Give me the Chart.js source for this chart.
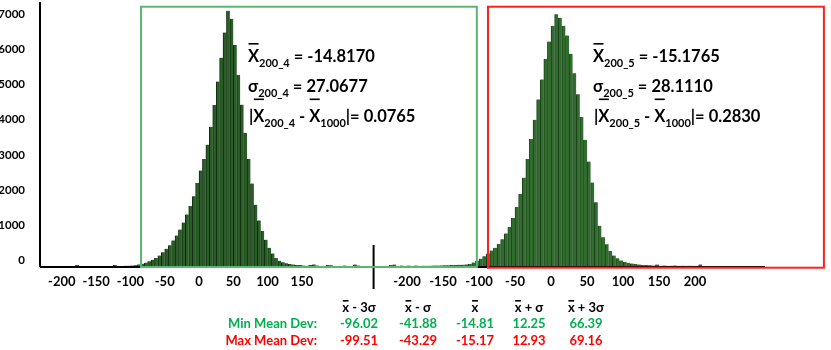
<!DOCTYPE html>
<html><head><meta charset="utf-8">
<script src="https://cdn.jsdelivr.net/npm/chart.js@4.4.1/dist/chart.umd.min.js"></script>
<style>html,body{margin:0;padding:0;background:#fff;}#wrap{width:831px;height:350px;}</style>
</head><body><div id="wrap"><canvas id="c" width="831" height="350"></canvas></div>
<script>
// ---------- DATA ----------
const leftBins = [-177.5,-122.5,-107.5,-102.5,-97.5,-92.5,-87.5,-82.5,-77.5,-72.5,-67.5,-62.5,-57.5,-52.5,-47.5,-42.5,-37.5,-32.5,-27.5,-22.5,-17.5,-12.5,-7.5,-2.5,2.5,7.5,12.5,17.5,22.5,27.5,32.5,37.5,42.5,47.5,52.5,57.5,62.5,67.5,72.5,77.5,82.5,87.5,92.5,97.5,102.5,107.5,112.5,117.5,122.5,127.5,132.5,137.5,142.5,147.5,152.5,157.5,162.5,167.5,172.5,187.5,192.5,212.5,227.5,232.5];
const leftCounts = [30,25,8,10,12,18,45,65,95,135,175,230,300,390,490,595,730,870,1040,1240,1470,1710,1990,2370,2720,3050,3460,3970,4590,5260,5940,6660,7280,7050,6300,5450,4600,3800,3050,2350,1750,1300,1000,750,520,360,230,150,105,80,55,40,30,25,15,10,30,45,15,25,20,15,40,15];
const rightBins = [-222.5,-217.5,-207.5,-197.5,-187.5,-177.5,-172.5,-167.5,-162.5,-157.5,-152.5,-147.5,-142.5,-137.5,-132.5,-127.5,-122.5,-117.5,-112.5,-107.5,-102.5,-97.5,-92.5,-87.5,-82.5,-77.5,-72.5,-67.5,-62.5,-57.5,-52.5,-47.5,-42.5,-37.5,-32.5,-27.5,-22.5,-17.5,-12.5,-7.5,-2.5,2.5,7.5,12.5,17.5,22.5,27.5,32.5,37.5,42.5,47.5,52.5,57.5,62.5,67.5,72.5,77.5,82.5,87.5,92.5,97.5,102.5,107.5,112.5,117.5,122.5,127.5,132.5,137.5,142.5,147.5,152.5,157.5,162.5,167.5,172.5,177.5,182.5,187.5,192.5,197.5,202.5,207.5];
const rightCounts = [30,40,15,12,15,10,8,10,12,14,16,19,22,25,28,33,38,45,60,100,150,210,280,360,440,520,630,760,930,1110,1370,1680,2050,2520,3050,3620,4170,4750,5320,5900,6400,6850,7180,7080,6850,6570,6050,5500,4900,4250,3600,2980,2380,1820,1150,820,620,430,300,220,160,120,90,70,55,40,30,25,20,15,40,10,12,8,10,12,8,10,6,10,8,6,45];
const yTicks = [0,1000,2000,3000,4000,5000,6000,7000];
const leftTickLabels = [-200,-150,-100,-50,0,50,100,150];
const rightTickLabels = [-200,-150,-100,-50,0,50,100,150,200];
const leftStats = {sub:'200_4', mean:'-14.8170', sigma:'27.0677', dev:'0.0765'};
const rightStats = {sub:'200_5', mean:'-15.1765', sigma:'28.1110', dev:'0.2830'};
const tableHeaders = [' - 3σ', ' - σ', '', ' + σ', ' + 3σ'];
const minMeanDev = ['-96.02','-41.88','-14.81','12.25','66.39'];
const maxMeanDev = ['-99.51','-43.29','-15.17','12.93','69.16'];

// ---------- LAYOUT / STYLE ----------
const FONT = 'Lato, "Open Sans", sans-serif';
const XL = {min:-231.8, max:825.1};
const XR = {min:-709.7, max:297.2};
const DIVIDER_AT = 254.5;          // in left-section units
const GREEN_BOX = {x0:-84.5, x1:405, top:7394};   // xL units
const RED_BOX = {x0:-87.5, x1:379, top:7394};     // xR units
const tableCols = [359, 418, 475, 529, 586];
const tableRowsY = [311.5, 327.5, 345];

function rich(ctx, x, y, segs, base, subSize, subDy, overOff) {
  let cx = x;
  for (const s of segs) {
    const size = s.sub ? subSize : base;
    ctx.font = `bold ${size}px ${FONT}`;
    ctx.fillText(s.t, cx, y + (s.sub ? subDy : 0));
    const w = ctx.measureText(s.t).width;
    if (s.over) ctx.fillRect(cx + 0.5, y - overOff, w - 1, 1.6);
    cx += w;
  }
  return cx - x;
}
function richWidth(ctx, segs, base, subSize) {
  let w = 0;
  for (const s of segs) { ctx.font = `bold ${s.sub ? subSize : base}px ${FONT}`; w += ctx.measureText(s.t).width; }
  return w;
}

const deco = {
  id: 'deco',
  afterDraw(chart) {
    const {ctx, chartArea: ca, scales: {xL, xR, y}} = chart;
    ctx.save();
    const y0 = y.getPixelForValue(0);
    ctx.fillStyle = '#000';
    ctx.fillRect(ca.left, y0, ca.right - ca.left, 2);
    const dx = xL.getPixelForValue(DIVIDER_AT);
    ctx.fillRect(dx - 1, 245, 2, 44);
    ctx.lineWidth = 2;
    ctx.strokeStyle = '#5bb673';
    let gx0 = xL.getPixelForValue(GREEN_BOX.x0), gx1 = xL.getPixelForValue(GREEN_BOX.x1), gt = y.getPixelForValue(GREEN_BOX.top);
    ctx.strokeRect(gx0, gt, gx1 - gx0, y0 + 1 - gt);
    ctx.strokeStyle = '#ff1f1f';
    let rx0 = xR.getPixelForValue(RED_BOX.x0), rx1 = xR.getPixelForValue(RED_BOX.x1), rt = y.getPixelForValue(RED_BOX.top);
    ctx.strokeRect(rx0, rt, rx1 - rx0, y0 + 1.7 - rt);
    ctx.fillStyle = '#000';
    ctx.font = `bold 13px ${FONT}`;
    ctx.textAlign = 'center';
    ctx.textBaseline = 'alphabetic';
    leftTickLabels.forEach(v => ctx.fillText(String(v), xL.getPixelForValue(v), 286));
    rightTickLabels.forEach(v => ctx.fillText(String(v), xR.getPixelForValue(v), 286));
    ctx.textAlign = 'left';
    const ann = (x, st) => {
      rich(ctx, x, 62, [{t:'X', over:true},{t:st.sub, sub:true},{t:' = ' + st.mean}], 16.5, 11, 5, 19);
      rich(ctx, x, 92, [{t:'σ'},{t:st.sub, sub:true},{t:' = ' + st.sigma}], 16.5, 11, 5, 19);
      rich(ctx, x + 1, 122, [{t:'|'},{t:'X', over:true},{t:st.sub, sub:true},{t:' - '},{t:'X', over:true},{t:'1000', sub:true},{t:'|= ' + st.dev}], 16.5, 11, 5, 23.5);
    };
    ann(248, leftStats);
    ann(593, rightStats);
    tableHeaders.forEach((h, i) => {
      const segs = [{t:'x', over:true}, {t:h}];
      const w = richWidth(ctx, segs, 13, 13);
      rich(ctx, tableCols[i] - w / 2, tableRowsY[0], segs, 13, 13, 0, 11.5);
    });
    ctx.font = `bold 13px ${FONT}`;
    ctx.textAlign = 'right';
    ctx.fillStyle = '#00b050';
    ctx.fillText('Min Mean Dev:', 317, tableRowsY[1]);
    ctx.fillStyle = '#ff0000';
    ctx.fillText('Max Mean Dev:', 317, tableRowsY[2]);
    ctx.textAlign = 'center';
    ctx.fillStyle = '#00b050';
    minMeanDev.forEach((v, i) => ctx.fillText(v, tableCols[i], tableRowsY[1]));
    ctx.fillStyle = '#ff0000';
    maxMeanDev.forEach((v, i) => ctx.fillText(v, tableCols[i], tableRowsY[2]));
    ctx.restore();
  }
};

const hiddenX = (r) => ({
  type: 'linear', display: false, offset: false, bounds: 'data', min: r.min, max: r.max,
  grid: {offset: false},
  afterBuildTicks: s => { s.min = r.min; s.max = r.max; }
});

new Chart(document.getElementById('c'), {
  type: 'bar',
  data: {
    datasets: [
      {label: 'Sample 200_4', data: leftBins.map((b, i) => ({x: b, y: leftCounts[i]})), xAxisID: 'xL', yAxisID: 'y',
       backgroundColor: '#2a5e27', borderColor: '#10280f', borderWidth: {left: 1, right: 0, top: 0, bottom: 0}, borderSkipped: false,
       grouped: false, barPercentage: 1, categoryPercentage: 1},
      {label: 'Sample 200_5', data: rightBins.map((b, i) => ({x: b, y: rightCounts[i]})), xAxisID: 'xR', yAxisID: 'y',
       backgroundColor: '#316d2d', borderColor: '#1a3d1a', borderWidth: {left: 1, right: 0, top: 0, bottom: 0}, borderSkipped: false,
       grouped: false, barPercentage: 1, categoryPercentage: 1}
    ]
  },
  options: {
    responsive: false, animation: false, devicePixelRatio: 1,
    layout: {padding: {left: 0, top: 3, right: 66, bottom: 84}},
    plugins: {legend: {display: false}, tooltip: {enabled: false}},
    scales: {
      xL: hiddenX(XL),
      xR: hiddenX(XR),
      y: {type: 'linear', min: 0, max: 7500, grid: {display: false},
          border: {display: true, color: '#000', width: 2},
          ticks: {font: {family: FONT, size: 11.5, weight: 'bold'}, color: '#000', padding: 7, labelOffset: -6,
                  callback: v => String(v)},
          afterBuildTicks: s => { s.ticks = yTicks.map(v => ({value: v})); },
          afterFit: s => { s.width = 40; s.paddingTop = 0; s.paddingBottom = 0; }}
    }
  },
  plugins: [deco]
});
</script></body></html>
